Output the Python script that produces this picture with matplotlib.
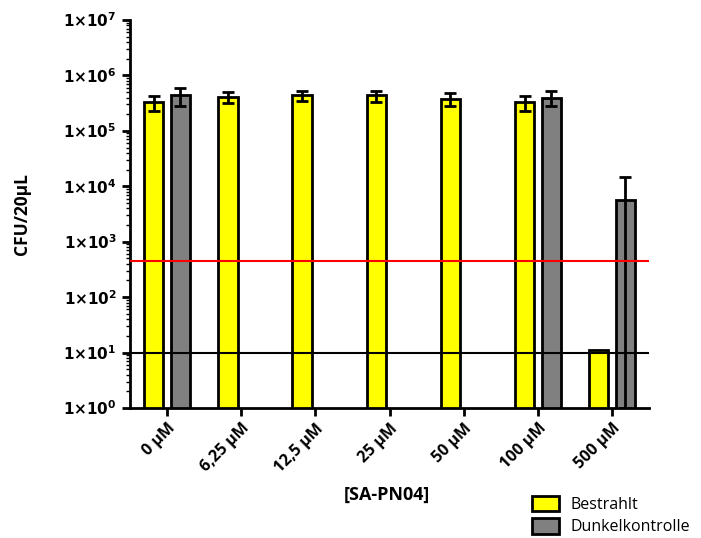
import numpy as np
import matplotlib
matplotlib.use('Agg')
import matplotlib.pyplot as plt
from matplotlib.ticker import LogLocator, FuncFormatter, NullFormatter
from matplotlib.patches import Patch

# CFU counts per concentration; NaN = no dark control measured
conc = ['0 µM', '6,25 µM', '12,5 µM', '25 µM', '50 µM', '100 µM', '500 µM']
bestrahlt = [3.25e5, 4.1e5, 4.35e5, 4.35e5, 3.8e5, 3.3e5, 10.0]
bestrahlt_sd = [1.0e5, 0.95e5, 0.85e5, 1.0e5, 0.95e5, 1.0e5, 0.0]
dunkel = [4.4e5, np.nan, np.nan, np.nan, np.nan, 4.0e5, 5.7e3]
dunkel_sd = [1.55e5, np.nan, np.nan, np.nan, np.nan, 1.2e5, 9.3e3]
red_level = 440.0
detect_limit = 10.0

plt.rcParams['font.family'] = ['Open Sans', 'DejaVu Sans']
plt.rcParams['mathtext.fontset'] = 'dejavusans'

fig = plt.figure(figsize=(7.01, 5.38), dpi=100)
ax = fig.add_axes([0.1854, 0.2416, 0.7406, 0.7212])

x = np.arange(len(conc))
w = 0.26
off = 0.18
YEL = '#ffff00'
GRY = '#808080'

def draw(xs, vals, sds, color):
    for xi, v, s in zip(xs, vals, sds):
        if np.isnan(v):
            continue
        ax.bar(xi, v, width=w, bottom=1, color=color, edgecolor='black', linewidth=2.0, zorder=3)
        if s > 0:
            lo = min(s, v - 1.0)
            ax.errorbar(xi, v, yerr=[[lo], [s]], fmt='none', ecolor='black',
                        elinewidth=2.0, capsize=4, capthick=2.0, zorder=4)

draw(x - off, bestrahlt, bestrahlt_sd, YEL)
draw(x + off, dunkel, dunkel_sd, GRY)

ax.axhline(red_level, color='#ff0000', lw=1.5, zorder=5)
ax.axhline(detect_limit, color='black', lw=1.5, zorder=5)

ax.set_yscale('log')
ax.set_ylim(1, 1e7)
ax.set_xlim(-0.5, 6.5)
ax.yaxis.set_major_locator(LogLocator(base=10, numticks=10))
ax.yaxis.set_minor_locator(LogLocator(base=10, subs=np.arange(2, 10), numticks=100))
ax.yaxis.set_minor_formatter(NullFormatter())
ax.yaxis.set_major_formatter(FuncFormatter(
    lambda v, p: r'$\mathbf{1{\times}10^{%d}}$' % int(round(np.log10(v)))))
for lab in ax.get_yticklabels():
    lab.set_fontsize(11)

ax.set_xticks(x)
ax.set_xticklabels(conc, rotation=45, ha='right', rotation_mode='anchor',
                   fontsize=11.5, fontweight='bold')

for s in ['top', 'right']:
    ax.spines[s].set_visible(False)
for s in ['left', 'bottom']:
    ax.spines[s].set_linewidth(2.0)
ax.tick_params(axis='both', which='major', width=2.0, length=6, direction='out')
ax.tick_params(axis='y', which='minor', width=1.0, length=3)
ax.tick_params(axis='x', pad=3)

ax.set_ylabel('CFU/20µL', fontsize=12.5, fontweight='bold')
ax.yaxis.set_label_coords(-0.19, 0.5)
fig.text(0.552, 0.08, '[SA-PN04]', fontsize=13, fontweight='bold', ha='center', va='center')

handles = [Patch(facecolor=YEL, edgecolor='black', linewidth=2.0, label='Bestrahlt'),
           Patch(facecolor=GRY, edgecolor='black', linewidth=2.0, label='Dunkelkontrolle')]
fig.legend(handles=handles, loc='lower left', bbox_to_anchor=(0.738, -0.022),
           frameon=False, fontsize=11.5, handlelength=1.7, handleheight=1.1,
           handletextpad=0.75, labelspacing=0.35)

fig.savefig('out.png', dpi=100)
